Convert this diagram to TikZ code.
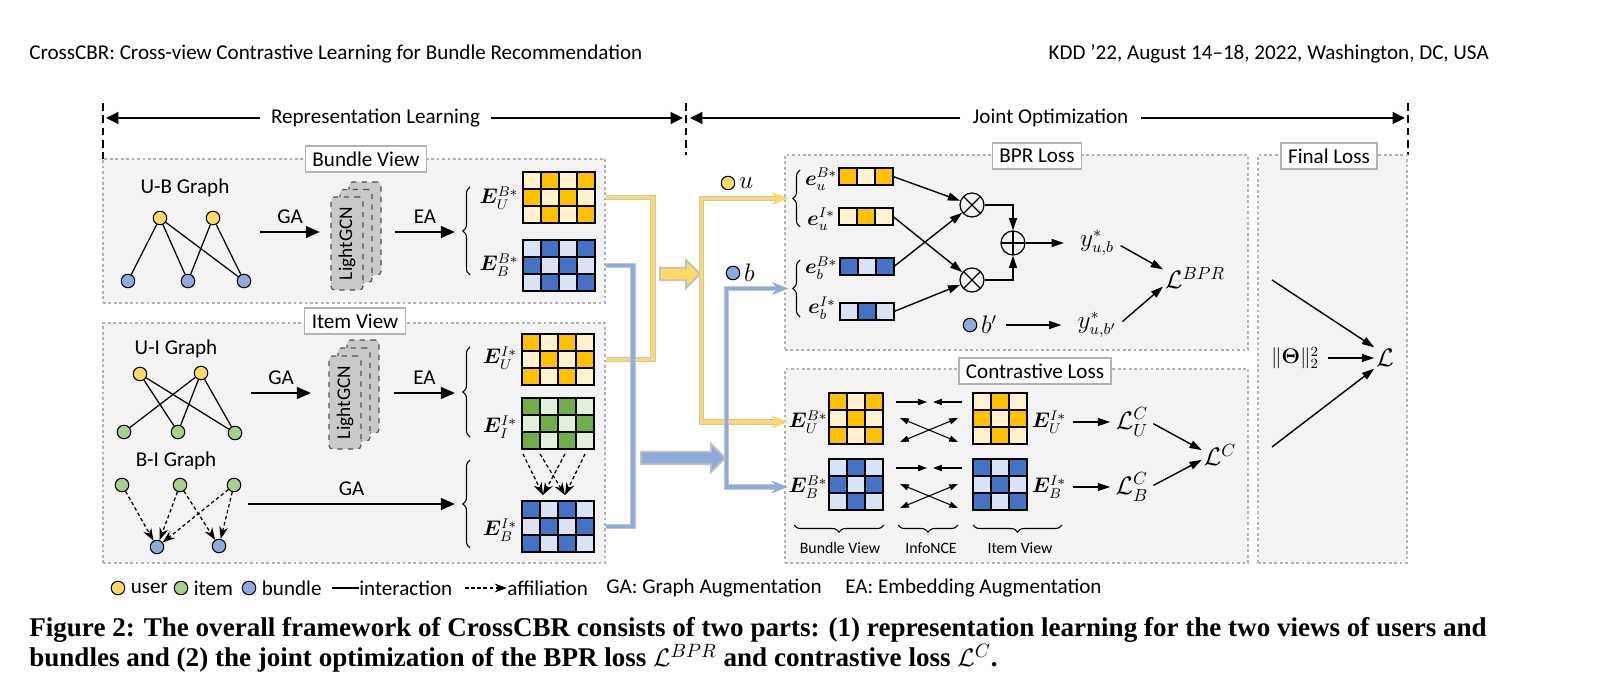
\documentclass[tikz,border=0pt]{standalone}
\usepackage{amsmath}
\usepackage{fontspec}
\setmainfont{Carlito}
\newfontfamily\capfont{Liberation Serif}
\usepackage{bm}
\usetikzlibrary{positioning,fit,arrows.meta,decorations.pathreplacing,shapes.arrows}

\definecolor{yellowdark}{HTML}{FFC000}
\definecolor{yellowlight}{HTML}{FFF2CC}
\definecolor{bluedark}{HTML}{4472C4}
\definecolor{bluelight}{HTML}{DAE3F3}
\definecolor{greendark}{HTML}{70AD47}
\definecolor{greenlight}{HTML}{E2F0D9}
\definecolor{usercol}{HTML}{FFD966}
\definecolor{itemcol}{HTML}{A9D18E}
\definecolor{bundlecol}{HTML}{8FAADC}
\definecolor{panel}{HTML}{F3F3F3}

\tikzset{
  viewbox/.style={draw=gray!60, line width=1.6pt, dash pattern=on 1.6pt off 1.5pt, fill=panel, inner sep=0pt},
  boxlab/.style={draw=gray!60, line width=0.8pt, fill=white, inner xsep=4pt, inner ysep=2pt, minimum height=15pt},
  vertex/.style={circle, draw, line width=0.6pt, inner sep=0pt, minimum size=0.27cm},
  usernode/.style={vertex, fill=usercol},
  itemnode/.style={vertex, fill=itemcol},
  bundlenode/.style={vertex, fill=bundlecol},
  gcnlayer/.style={draw=gray!65!black, dashed, line width=0.7pt, fill=gray!42, rounded corners=2pt,
    minimum width=0.64cm, minimum height=1.86cm, inner sep=0pt, font=\fontsize{11}{13}\selectfont},
  emb/.style={inner sep=0.5pt},
  link/.style={line width=0.7pt},
  bigarr/.style={line width=1.4pt, -{Triangle[length=8pt,width=6.5pt]}},
  spanarr/.style={line width=1.6pt, -{Triangle[length=7pt,width=6.5pt]}},
  sepline/.style={line width=1.1pt, dash pattern=on 4.5pt off 2.5pt},
  arr/.style={line width=0.8pt, -{Triangle[length=7pt,width=4.5pt]}},
  arrs/.style={line width=0.6pt, -{Triangle[length=5pt,width=3.5pt]}},
  arrtwo/.style={line width=0.6pt, {Triangle[length=5pt,width=3.5pt]}-{Triangle[length=5pt,width=3.5pt]}},
  affil/.style={line width=0.7pt, dash pattern=on 2pt off 1.5pt, -{Stealth[length=7pt,width=5pt]}},
  lbrace/.style={decorate, decoration={brace, amplitude=4pt}, line width=0.6pt},
  mcell/.style={draw, line width=0.6pt},
  opnode/.style={circle, draw, line width=0.7pt, minimum size=0.48cm, inner sep=0pt},
  otimes/.style={opnode, path picture={\draw[line width=0.7pt]
    (path picture bounding box.north west) -- (path picture bounding box.south east)
    (path picture bounding box.north east) -- (path picture bounding box.south west);}},
  oplus/.style={opnode, path picture={\draw[line width=0.7pt]
    (path picture bounding box.north) -- (path picture bounding box.south)
    (path picture bounding box.west) -- (path picture bounding box.east);}},
  flowy/.style={draw=usercol, line width=2pt, preaction={draw=gray!45, line width=3.2pt}},
  flowb/.style={draw=bundlecol, line width=2pt, preaction={draw=gray!45, line width=3.2pt}},
  flowtip/.style={-{Stealth[length=9pt,width=7pt]}},
  fatarrow/.style={single arrow, draw=gray!50, line width=1pt, inner xsep=0pt, inner ysep=3pt,
    single arrow head extend=4.5pt, single arrow head indent=0pt},
  biglab/.style={inner sep=1pt, font=\fontsize{14}{16}\selectfont},
  midlab/.style={inner sep=1pt, font=\fontsize{13.5}{16}\selectfont},
  sublab/.style={inner sep=1pt, font=\fontsize{9}{11}\selectfont},
  legtxt/.style={inner sep=0pt},
  hdr/.style={inner sep=0pt, font=\fontsize{12}{14}\selectfont},
  captxt/.style={anchor=west, inner sep=0pt, font=\capfont\bfseries\fontsize{15.4}{18}\selectfont},
}

% checkerboard embedding: name, north west corner, columns, rows, colour, phase
\newcommand{\embgrid}[6]{%
  \node[inner sep=0pt, outer sep=0pt, anchor=north west,
        minimum width=#3*0.36cm, minimum height=#4*0.34cm] (#1) at (#2) {};
  \foreach \i in {1,...,#3}{
    \foreach \j in {1,...,#4}{
      \pgfmathtruncatemacro\gridk{mod(\i+\j+#6,2)}
      \ifnum\gridk=0 \def\gridc{#5dark}\else\def\gridc{#5light}\fi
      \draw[mcell, fill=\gridc] ([shift={(\i*18-18,\j*17-17)}]#1.north west) rectangle ++(18,17);
    }
  }
}

\begin{document}
\begin{tikzpicture}[x=0.02cm, y=-0.02cm, font=\fontsize{12}{14}\selectfont]

  \fill[white] (0,0) rectangle (1617,675);
  \useasboundingbox (0,0) rectangle (1617,675);

  % running head
  \node[hdr, anchor=west] (headl) at (29,54) {CrossCBR: Cross-view Contrastive Learning for Bundle Recommendation};
  \node[hdr, anchor=east] (headr) at (1489,54) {KDD ’22, August 14–18, 2022, Washington, DC, USA};

  % the two parts
  \draw[sepline] (103,103) -- (103,159);
  \draw[sepline] (686,103) -- (686,155);
  \draw[sepline] (1408,103) -- (1408,155);
  \coordinate (s1) at (106,118);
  \coordinate (s2) at (683,118);
  \coordinate (s3) at (690,118);
  \coordinate (s4) at (1405,118);
  \node[inner xsep=6pt] (replearn) at (375.5,118) {Representation Learning};
  \node[inner xsep=7pt] (jointopt) at (1050.5,118) {Joint Optimization};
  \draw[spanarr] (replearn) -- (s1);
  \draw[spanarr] (replearn) -- (s2);
  \draw[spanarr] (jointopt) -- (s3);
  \draw[spanarr] (jointopt) -- (s4);

  % panels
  \node[viewbox, fit={(103,159) (605,303)}] (bview) {};
  \node[viewbox, fit={(103,323) (605,563)}] (iview) {};
  \node[viewbox, fit={(785,155) (1248,350)}] (bprbox) {};
  \node[viewbox, fit={(785,369) (1248,563)}] (clbox) {};
  \node[viewbox, fit={(1258,155) (1407,563)}] (flbox) {};
  \node[boxlab] (bviewlab) at (366,159) {Bundle View};
  \node[boxlab] (iviewlab) at (355,321) {Item View};
  \node[boxlab] (bprlab) at (1037,156) {BPR Loss};
  \node[boxlab] (cllab) at (1035,371) {Contrastive Loss};
  \node[boxlab] (fllab) at (1329,156) {Final Loss};

  % bundle view
  \node (ubtitle) at (185,188) {U-B Graph};
  \node[usernode] (ub-u1) at (160,218) {};
  \node[usernode] (ub-u2) at (213,218) {};
  \node[bundlenode] (ub-b1) at (128,281) {};
  \node[bundlenode] (ub-b2) at (188,281) {};
  \node[bundlenode] (ub-b3) at (244,281) {};
  \draw[link] (ub-u1) -- (ub-b1);
  \draw[link] (ub-u1) -- (ub-b2);
  \draw[link] (ub-u1) -- (ub-b3);
  \draw[link] (ub-u2) -- (ub-b2);
  \draw[link] (ub-u2) -- (ub-b3);

  \coordinate (bga1) at (260,232);
  \coordinate (bga2) at (320,232);
  \draw[bigarr] (bga1) -- (bga2) node[midway, above=1pt] (bgalab) {GA};
  \node[gcnlayer] (gcnb3) at (365,228.5) {};
  \node[gcnlayer] (gcnb2) at (356,236) {};
  \node[gcnlayer] (gcnb1) at (347,243.5) {\rotatebox{90}{LightGCN}};
  \coordinate (bea1) at (395,232);
  \coordinate (bea2) at (455,232);
  \draw[bigarr] (bea1) -- (bea2) node[midway, above=1pt] (bealab) {EA};

  \draw[lbrace] (470,275) -- (470,187);
  \node[emb] (lubB) at (499,198) {$\bm{E}_U^{B*}$};
  \node[emb] (lbbB) at (499,265) {$\bm{E}_B^{B*}$};
  \embgrid{eubB}{523,172}{4}{3}{yellow}{1}
  \embgrid{ebbB}{523,240}{4}{3}{blue}{1}

  % item view
  \node (uititle) at (176,349) {U-I Graph};
  \node[usernode] (ui-u1) at (140,374) {};
  \node[usernode] (ui-u2) at (201,373) {};
  \node[itemnode] (ui-i1) at (124,432) {};
  \node[itemnode] (ui-i2) at (178,432) {};
  \node[itemnode] (ui-i3) at (235,433) {};
  \draw[link] (ui-u1) -- (ui-i2);
  \draw[link] (ui-u1) -- (ui-i3);
  \draw[link] (ui-u2) -- (ui-i1);
  \draw[link] (ui-u2) -- (ui-i2);
  \draw[link] (ui-u2) -- (ui-i3);

  \coordinate (iga1) at (251,393);
  \coordinate (iga2) at (311,393);
  \draw[bigarr] (iga1) -- (iga2) node[midway, above=1pt] (igalab) {GA};
  \node[gcnlayer] (gcni3) at (363,386.5) {};
  \node[gcnlayer] (gcni2) at (354,394.5) {};
  \node[gcnlayer] (gcni1) at (345,402.5) {\rotatebox{90}{LightGCN}};
  \coordinate (iea1) at (394,393);
  \coordinate (iea2) at (455,393);
  \draw[bigarr] (iea1) -- (iea2) node[midway, above=1pt] (iealab) {EA};

  \draw[lbrace] (470,437) -- (470,347);
  \node[emb] (luiI) at (500,358) {$\bm{E}_U^{I*}$};
  \node[emb] (liiI) at (500,427) {$\bm{E}_I^{I*}$};
  \embgrid{euiI}{522,334}{4}{3}{yellow}{0}
  \embgrid{eiiI}{522,398}{4}{3}{green}{0}

  \node (bititle) at (176,461) {B-I Graph};
  \node[itemnode] (bi-i1) at (122,485) {};
  \node[itemnode] (bi-i2) at (180,485) {};
  \node[itemnode] (bi-i3) at (234,485) {};
  \node[bundlenode] (bi-b1) at (157,547) {};
  \node[bundlenode] (bi-b2) at (219,546) {};
  \draw[affil] (bi-i1) -- (bi-b1);
  \draw[affil] (bi-i2) -- (bi-b1);
  \draw[affil] (bi-i2) -- (bi-b2);
  \draw[affil] (bi-i3) -- (bi-b1);
  \draw[affil] (bi-i3) -- (bi-b2);

  \coordinate (bga3) at (248,504);
  \coordinate (bga4) at (455,504);
  \draw[bigarr] (bga3) -- (bga4) node[midway, above=1pt] (bgalab2) {GA};
  \draw[lbrace] (470,548) -- (470,460);
  \node[emb] (lbiI) at (500,530) {$\bm{E}_B^{I*}$};
  \embgrid{ebiI}{522,501}{4}{3}{blue}{0}
  \draw[affil] ([shift={(1,5)}]eiiI.south west) -- ([shift={(21,-6)}]ebiI.north west);
  \draw[affil] ([shift={(18,5)}]eiiI.south west) -- ([shift={(43,-6)}]ebiI.north west);
  \draw[affil] ([shift={(43,5)}]eiiI.south west) -- ([shift={(21,-6)}]ebiI.north west);
  \draw[affil] ([shift={(63,5)}]eiiI.south west) -- ([shift={(43,-6)}]ebiI.north west);

  % BPR loss
  \draw[lbrace] (800,227) -- (800,170);
  \draw[lbrace] (800,317) -- (800,260);
  \coordinate (bru) at (788,198.5);
  \coordinate (brb) at (788,288.5);
  \node[emb] (leub) at (821,179) {$\bm{e}_u^{B*}$};
  \node[emb] (leui) at (821,219) {$\bm{e}_u^{I*}$};
  \node[emb] (lebb) at (821,268) {$\bm{e}_b^{B*}$};
  \node[emb] (lebi) at (822,308) {$\bm{e}_b^{I*}$};
  \embgrid{vub}{839,168}{3}{1}{yellow}{0}
  \embgrid{vui}{839,208}{3}{1}{yellow}{1}
  \embgrid{vbb}{840,258}{3}{1}{blue}{0}
  \embgrid{vbi}{840,303}{3}{1}{blue}{1}
  \node[otimes] (mul1) at (972,205) {};
  \node[otimes] (mul2) at (972,280) {};
  \node[oplus] (add) at (1013,243) {};
  \draw[arr] (vub.east) -- (mul1);
  \draw[arr] (vui.east) -- (mul2);
  \draw[arr] (vbb.east) -- (mul1);
  \draw[arr] (vbi.east) -- (mul2);
  \draw[arr] (mul1) -| (add);
  \draw[arr] (mul2) -| (add);
  \node[midlab] (yub) at (1097,243) {$y^{*}_{u,b}$};
  \draw[arr, shorten >=8pt] (add) -- (yub);
  \node[bundlenode] (bneg) at (970,325) {};
  \node[midlab, right=1pt of bneg] (bnegl) {$b'$};
  \node[midlab] (yubn) at (1097,325) {$y^{*}_{u,b'}$};
  \draw[arr, shorten <=4pt, shorten >=8pt] (bnegl) -- (yubn);
  \node[biglab] (lbpr) at (1195,278) {$\mathcal{L}^{BPR}$};
  \draw[arr, shorten <=3pt] (yub.east) -- (lbpr.165);
  \draw[arr, shorten <=3pt] (yubn.east) -- (lbpr.195);

  % contrastive loss
  \node[emb] (lcub) at (808,422) {$\bm{E}_U^{B*}$};
  \node[emb] (lcbb) at (808,487) {$\bm{E}_B^{B*}$};
  \embgrid{cub}{829,393}{3}{3}{yellow}{0}
  \embgrid{cbb}{829,459}{3}{3}{blue}{1}
  \embgrid{ciu}{973,393}{3}{3}{yellow}{1}
  \embgrid{cib}{973,459}{3}{3}{blue}{0}
  \node[emb] (lciu) at (1049,422) {$\bm{E}_U^{I*}$};
  \node[emb] (lcib) at (1049,487) {$\bm{E}_B^{I*}$};
  \foreach \m/\n in {cub/ciu, cbb/cib}{
    \draw[arrs] ([shift={(13,9)}]\m.north east) -- ([shift={(-46,9)}]\n.north west);
    \draw[arrs] ([shift={(-11,9)}]\n.north west) -- ([shift={(-40,9)}]\n.north west);
    \draw[arrtwo] ([shift={(17,25)}]\m.north east) -- ([shift={(-15,49)}]\n.north west);
    \draw[arrtwo] ([shift={(17,49)}]\m.north east) -- ([shift={(-15,25)}]\n.north west);
  }
  \node[biglab] (lcu) at (1132,422) {$\mathcal{L}_U^C$};
  \node[biglab] (lcb) at (1132,487) {$\mathcal{L}_B^C$};
  \node[biglab] (lc) at (1220,455) {$\mathcal{L}^C$};
  \draw[arr, shorten <=3pt, shorten >=2pt] (lciu) -- (lcu);
  \draw[arr, shorten <=3pt, shorten >=2pt] (lcib) -- (lcb);
  \draw[arr, shorten <=2pt] (lcu.east) -- (lc.165);
  \draw[arr, shorten <=2pt] (lcb.east) -- (lc.195);
  \draw[lbrace] (884,525) -- (794,525);
  \draw[lbrace] (958,525) -- (898,525);
  \draw[lbrace] (1062,525) -- (973,525);
  \node[sublab] (ubundle) at (840,548) {Bundle View};
  \node[sublab] (unce) at (931,548) {InfoNCE};
  \node[sublab] (uitem) at (1020,548) {Item View};

  % final loss
  \node[inner sep=1pt] (reg) at (1295,358) {$\|\bm{\Theta}\|_2^2$};
  \node[biglab] (ltot) at (1385,358) {$\mathcal{L}$};
  \coordinate (fin1) at (1272,280);
  \coordinate (fin2) at (1272,447);
  \draw[arr] (fin1) -- (ltot.north west);
  \draw[arr, shorten <=4pt] (reg) -- (ltot);
  \draw[arr] (fin2) -- (ltot.south west);

  % flows from the views to the losses
  \coordinate (yv) at (653,274);
  \coordinate (bv) at (633,458);
  \draw[flowy] (bview.east |- eubB) -| (yv) |- (iview.east |- euiI);
  \draw[flowb] (bview.east |- ebbB) -| (bv) |- (iview.east |- ebiI);
  \node[fatarrow, fill=usercol, minimum height=0.8cm] (fatY) at (677,274) {};
  \node[fatarrow, fill=bundlecol, minimum height=1.68cm] (fatB) at (680,458) {};
  \draw[flowy, flowtip] (fatY.tip) |- (bru);
  \draw[flowy, flowtip] (fatY.tip) |- (lcub.west);
  \draw[flowb, flowtip] (fatB.tip) |- (brb);
  \draw[flowb, flowtip] (fatB.tip) |- (lcbb.west);
  \node[usernode] (udot) at (728,183) {};
  \node[midlab, right=1pt of udot] (ulab) {$u$};
  \node[bundlenode] (bdot) at (733,273) {};
  \node[midlab, right=1pt of bdot] (blab) {$b$};

  % legend
  \node[usernode] (lgu) at (118,588) {};
  \node[legtxt, right=3pt of lgu] (lgut) {user};
  \node[itemnode] (lgi) at (181,588) {};
  \node[legtxt, right=3pt of lgi] (lgit) {item};
  \node[bundlenode] (lgb) at (249,588) {};
  \node[legtxt, right=3pt of lgb] (lgbt) {bundle};
  \coordinate (lgl) at (332,588);
  \node[legtxt, anchor=west] (lgint) at (359,588) {interaction};
  \draw[link] (lgl) -- (lgint.west);
  \coordinate (lga) at (465,588);
  \node[legtxt, anchor=west] (lgaff) at (507,588) {affiliation};
  \draw[affil] (lga) -- (lgaff.west);
  \node[legtxt, anchor=west] (lgga) at (606,588) {GA: Graph Augmentation};
  \node[legtxt, anchor=west] (lgea) at (845,588) {EA: Embedding Augmentation};

  % caption
  \node[captxt] (cap1) at (29,630)
    {Figure 2: The overall framework of CrossCBR consists of two parts: (1) representation learning for the two views of users and};
  \node[captxt] (cap2) at (29,658)
    {bundles and (2) the joint optimization of the BPR loss $\mathcal{L}^{BPR}$ and contrastive loss $\mathcal{L}^{C}$.};

\end{tikzpicture}
\end{document}
